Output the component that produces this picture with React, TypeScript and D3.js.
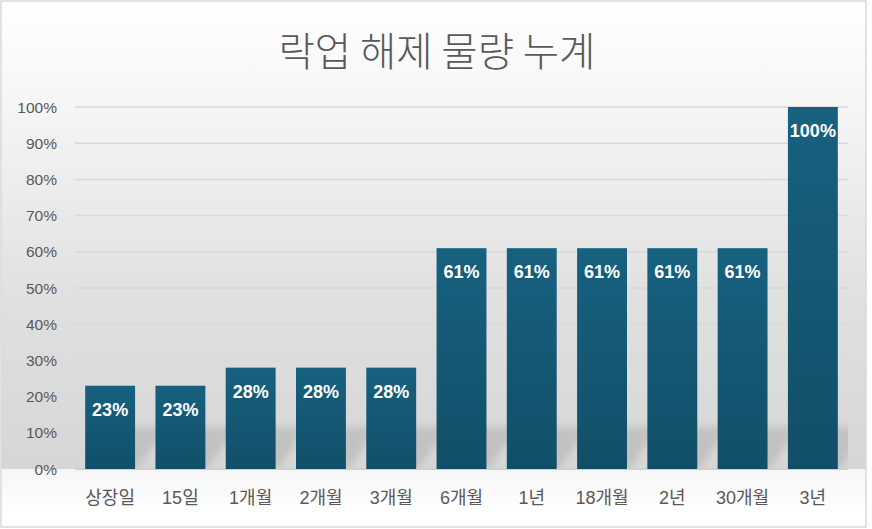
import React from "react";
import * as d3 from "d3";

const categories = ["상장일", "15일", "1개월", "2개월", "3개월", "6개월", "1년", "18개월", "2년", "30개월", "3년"];
const values = [23, 23, 28, 28, 28, 61, 61, 61, 61, 61, 100];
const yTicks = [0, 10, 20, 30, 40, 50, 60, 70, 80, 90, 100];
const title = "락업 해제 물량 누계";

const W = 872;
const H = 529;
const plot = { left: 75, right: 848, top: 107, bottom: 469 };
const FONT = "'Liberation Sans', Arial, 'Noto Sans CJK KR', sans-serif";

export default function App() {
  const x = d3.scaleBand<string>().domain(categories).range([plot.left, plot.right]).paddingInner(0.29).paddingOuter(0.145);
  const y = d3.scaleLinear().domain([0, 100]).range([plot.bottom, plot.top]);
  const bw = x.bandwidth();

  return (
    <svg width={W} height={H} style={{ position: "fixed", left: 0, top: 0 }} xmlns="http://www.w3.org/2000/svg">
      <defs>
        <linearGradient id="bg" x1="0" y1="0" x2="0" y2={H} gradientUnits="userSpaceOnUse">
          <stop offset="0" stopColor="#ffffff" />
          <stop offset={100 / H} stopColor="#f6f6f6" />
          <stop offset={300 / H} stopColor="#e0e0e0" />
          <stop offset={469 / H} stopColor="#d6d6d6" />
          <stop offset={469.01 / H} stopColor="#f6f6f6" />
          <stop offset={515 / H} stopColor="#ffffff" />
          <stop offset="1" stopColor="#ffffff" />
        </linearGradient>
        <linearGradient id="bar" x1="0" y1="0" x2="0" y2="1">
          <stop offset="0" stopColor="#17617f" />
          <stop offset="1" stopColor="#114f69" />
        </linearGradient>
        <filter id="blur" x="-50%" y="-50%" width="200%" height="200%">
          <feGaussianBlur stdDeviation="3.5" />
        </filter>
        <clipPath id="plotclip">
          <rect x={plot.left} y={plot.top} width={plot.right - plot.left} height={plot.bottom - plot.top} />
        </clipPath>
      </defs>
      <rect x={0} y={0} width={W} height={H} fill="#ffffff" />
      <rect x={1} y={1} width={865} height={526} fill="url(#bg)" stroke="#d9d9d9" strokeWidth={1.5} />

      <text x={437} y={66} textAnchor="middle" fontFamily="'Noto Sans CJK KR', sans-serif" fontWeight={300} fontSize={39.5} fill="#595959">
        {title}
      </text>

      {yTicks.map((t) => (
        <g key={t}>
          {t > 0 && (
            <line x1={plot.left} x2={plot.right} y1={y(t)} y2={y(t)} stroke="#d9d9d9" strokeWidth={1.5} />
          )}
          <text x={57} y={y(t) + 5.5} textAnchor="end" fontFamily={FONT} fontSize={15.5} fill="#595959">
            {t}%
          </text>
        </g>
      ))}

      <g clipPath="url(#plotclip)">
        {categories.map((c, i) => {
          const x0 = x(c)!;
          const hgt = Math.min(plot.bottom - y(values[i]), 42);
          const sk = hgt * 0.75;
          const pts = [
            [x0 + 4, plot.bottom],
            [x0 + bw + 2, plot.bottom],
            [x0 + bw + sk, plot.bottom - hgt],
            [x0 + sk + 6, plot.bottom - hgt],
          ];
          return (
            <polygon key={c} points={pts.map((p) => p.join(",")).join(" ")} fill="#a8a8a8" opacity={0.45} filter="url(#blur)" />
          );
        })}
      </g>

      <line x1={plot.left} x2={plot.right} y1={plot.bottom} y2={plot.bottom} stroke="#d0d0d0" strokeWidth={2} />

      {categories.map((c, i) => (
        <rect key={c} x={x(c)} y={y(values[i])} width={bw} height={plot.bottom - y(values[i])} fill="url(#bar)" />
      ))}

      {categories.map((c, i) => (
        <text key={c} x={x(c)! + bw / 2} y={y(values[i]) + 30} textAnchor="middle" fontFamily={FONT} fontWeight="bold" fontSize={18} fill="#ffffff">
          {values[i]}%
        </text>
      ))}

      {categories.map((c) => (
        <text key={c} x={x(c)! + bw / 2} y={504} textAnchor="middle" fontFamily={FONT} fontSize={18} fill="#595959">
          {c}
        </text>
      ))}
    </svg>
  );
}
